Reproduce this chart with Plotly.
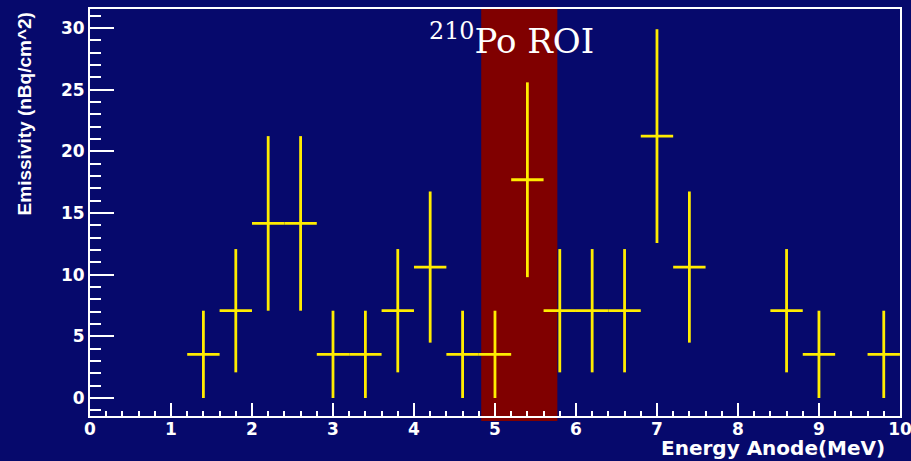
import plotly.graph_objects as go

# Data
energy = [1.4, 1.8, 2.2, 2.6, 3.0, 3.4, 3.8, 4.2, 4.6, 5.0, 5.4, 5.8, 6.2, 6.6, 7.0, 7.4, 8.6, 9.0, 9.8]
emissivity = [3.54, 7.08, 14.16, 14.16, 3.54, 3.54, 7.08, 10.62, 3.54, 3.54, 17.7, 7.08, 7.08, 7.08, 21.24, 10.62, 7.08, 3.54, 3.54]
err_y = [3.54, 5.0, 7.08, 7.08, 3.54, 3.54, 5.0, 6.13, 3.54, 3.54, 7.9, 5.0, 5.0, 5.0, 8.67, 6.13, 5.0, 3.54, 3.54]
half_width = [0.2] * len(energy)
roi = [4.83, 5.77]
x_range = [0, 10.0005]
y_range = [-1.46, 31.55]

BG = "#06096c"
YEL = "#ffec00"
tickfont = dict(family="DejaVu Sans", size=17, color="white", weight="bold")

fig = go.Figure()
fig.add_trace(go.Scatter(
    x=energy, y=emissivity, mode="markers",
    marker=dict(size=0.1, color=YEL),
    error_x=dict(type="data", array=half_width, symmetric=True, width=0, color=YEL, thickness=2.8),
    error_y=dict(type="data", array=err_y, symmetric=True, width=0, color=YEL, thickness=2.8),
    showlegend=False, hoverinfo="skip",
))

fig.add_shape(type="rect", xref="x", yref="paper", x0=roi[0], x1=roi[1], y0=-0.012, y1=1,
              fillcolor="#800000", line_width=0, layer="below")

fig.add_annotation(text="<sup>210</sup>Po ROI", xref="x", yref="y", x=5.2, y=29.1,
                   showarrow=False, xanchor="center", yanchor="middle",
                   font=dict(family="DejaVu Serif", size=34, color="white"))
fig.add_annotation(text="Energy Anode(MeV)", xref="paper", yref="paper", x=0.983, y=-0.111,
                   showarrow=False, xanchor="right", yanchor="bottom", borderpad=0,
                   font=dict(family="DejaVu Sans", size=20, color="white", weight="bold"))
fig.add_annotation(text="Emissivity (nBq/cm^2)", xref="paper", yref="paper", x=-0.0804, y=0.9975,
                   showarrow=False, xanchor="center", yanchor="top", textangle=-90,
                   font=dict(family="Liberation Sans", size=19, color="white", weight="bold"))

fig.update_xaxes(range=x_range, showgrid=False, zeroline=False, showline=True, linecolor="white",
                 linewidth=2, mirror=True, ticks="inside", ticklen=13, tickwidth=2, tickcolor="white",
                 dtick=1, tick0=0, tickfont=tickfont, ticklabeloverflow="allow", automargin=False,
                 ticklabelstandoff=-3,
                 minor=dict(ticks="inside", ticklen=5, tickwidth=2, tickcolor="white", dtick=0.2, showgrid=False))
fig.update_yaxes(range=y_range, showgrid=False, zeroline=False, showline=True, linecolor="white",
                 linewidth=2, mirror=True, ticks="inside", ticklen=24, tickwidth=2, tickcolor="white",
                 dtick=5, tick0=0, tickfont=tickfont, automargin=False,
                 minor=dict(ticks="inside", ticklen=11, tickwidth=2, tickcolor="white", dtick=1, showgrid=False))

fig.update_layout(width=911, height=461, margin=dict(l=90, r=11, t=9, b=45),
                  paper_bgcolor=BG, plot_bgcolor="rgba(0,0,0,0)")

fig.write_html("out.html")
